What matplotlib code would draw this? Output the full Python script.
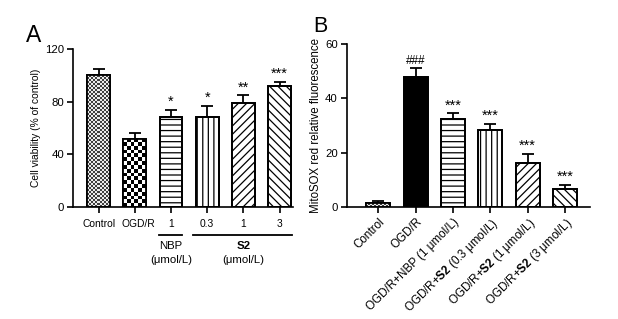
import numpy as np
import matplotlib
matplotlib.use("Agg")
import matplotlib.pyplot as plt
import matplotlib.transforms as mtransforms

plt.rcParams['font.family'] = ['Liberation Sans', 'DejaVu Sans']
plt.rcParams['mathtext.fontset'] = 'custom'
plt.rcParams['mathtext.rm'] = 'Liberation Sans'
plt.rcParams['mathtext.bf'] = 'Liberation Sans:bold'
plt.rcParams['hatch.linewidth'] = 0.9

# ---------------- data ----------------
a_ticklabels = ["Control", "OGD/R", "1", "0.3", "1", "3"]
a_values = [100, 52, 68, 68, 79, 92]
a_errors = [5, 4, 6, 9, 6, 3]
a_marks = ["", "", "*", "*", "**", "***"]
a_yticks = [0, 40, 80, 120]

b_ticklabels = ["Control", "OGD/R", "OGD/R+NBP (1 μmol/L)",
                "OGD/R+$\\bf{S2}$ (0.3 μmol/L)", "OGD/R+$\\bf{S2}$ (1 μmol/L)",
                "OGD/R+$\\bf{S2}$ (3 μmol/L)"]
b_values = [1.2, 48, 32.5, 28.5, 16, 6.5]
b_errors = [0.8, 3.2, 2.0, 2.2, 3.5, 1.5]
b_marks = ["", "###", "***", "***", "***", "***"]
b_yticks = [0, 20, 40, 60]

fig = plt.figure(figsize=(6.18, 3.19), dpi=100)
W, H = 618, 319

def add_ax(l, t, r, b):
    return fig.add_axes([l / W, 1 - b / H, (r - l) / W, (b - t) / H])

axA = add_ax(73, 49, 293, 207)
axB = add_ax(346.7, 44.3, 590, 206.7)

def style(ax, yticks, xlim):
    for s in ['top', 'right']:
        ax.spines[s].set_visible(False)
    for s in ['left', 'bottom']:
        ax.spines[s].set_linewidth(1.2)
    ax.set_ylim(yticks[0], yticks[-1])
    ax.set_yticks(yticks)
    ax.set_xlim(*xlim)
    ax.tick_params(axis='both', width=1.2, length=4.5, labelsize=8.2, pad=2)

def checker(ax, bar, cell_px, lo, hi):
    # fill bar with a checkerboard image clipped to the bar
    x0, y0 = bar.get_x(), bar.get_y()
    x1, y1 = x0 + bar.get_width(), y0 + bar.get_height()
    p0 = ax.transData.transform((x0, y0))
    p1 = ax.transData.transform((x1, y1))
    cols = max(1, int(round(abs(p1[0] - p0[0]) / cell_px)))
    rows = max(1, int(round(abs(p1[1] - p0[1]) / cell_px)))
    img = np.where(np.indices((rows, cols)).sum(0) % 2 == 0, lo, hi)
    im = ax.imshow(img, cmap='gray', vmin=0, vmax=1, extent=(x0, x1, y0, y1),
                   aspect='auto', interpolation='nearest', zorder=2, origin='lower')
    im.set_clip_path(bar)

def draw(ax, values, errors, marks, hatches, checks, width, xlim, yticks, markfs):
    style(ax, yticks, xlim)
    x = np.arange(len(values))
    bars = ax.bar(x, values, width=width, color='white', edgecolor='black',
                  linewidth=1.3, zorder=1)
    for bar, h in zip(bars, hatches):
        if h == 'solid':
            bar.set_facecolor('black')
        elif h:
            bar.set_hatch(h)
    xl = ax.get_xlim(); yl = ax.get_ylim()
    for i, c in enumerate(checks):
        if c:
            checker(ax, bars[i], *c)
    ax.set_xlim(xl); ax.set_ylim(yl)
    ax.bar(x, values, width=width, color='none', edgecolor='black',
           linewidth=1.3, zorder=3)
    ax.errorbar(x, values, yerr=[np.zeros(len(values)), errors], fmt='none',
                ecolor='black', elinewidth=1.3, capsize=4, capthick=1.3, zorder=0.5)
    for xi, v, e, m in zip(x, values, errors, marks):
        if m:
            fs = markfs if m.startswith('*') else 8.5
            ax.text(xi, v + e + (yticks[-1] * 0.005), m, ha='center', va='bottom',
                    fontsize=fs)
    ax.set_xticks(x)
    return bars

# Panel A
draw(axA, a_values, a_errors, a_marks,
     ['', '', '---', '|||', '////', '\\\\\\\\'],
     [(2.0, 0.25, 0.92), (3.8, 0.0, 1.0), 0, 0, 0, 0], 0.63, (-0.71, 5.37), a_yticks, 10.5)
axA.set_xticklabels(a_ticklabels, fontsize=7.4)
axA.tick_params(axis='x', pad=4)
# OGD/R label sits slightly right of its tick in the reference
lbl = axA.get_xticklabels()[1]
lbl.set_transform(lbl.get_transform() + mtransforms.ScaledTranslation(4 / 100, 0, fig.dpi_scale_trans))
axA.set_ylabel("Cell viability (% of control)", fontsize=7.4, labelpad=3)

trA = mtransforms.blended_transform_factory(axA.transData, axA.transAxes)
axA.plot([1.66, 2.3], [-0.18, -0.18], color='black', lw=1.3, transform=trA, clip_on=False)
axA.plot([2.6, 5.34], [-0.18, -0.18], color='black', lw=1.3, transform=trA, clip_on=False)
axA.text(2, -0.245, "NBP", ha='center', va='center', fontsize=8.2, transform=trA)
axA.text(2, -0.335, "(μmol/L)", ha='center', va='center', fontsize=8.2, transform=trA)
axA.text(4, -0.245, "S2", ha='center', va='center', fontsize=8.2, fontweight='bold', transform=trA)
axA.text(4, -0.335, "(μmol/L)", ha='center', va='center', fontsize=8.2, transform=trA)

# Panel B
draw(axB, b_values, b_errors, b_marks,
     ['', 'solid', '---', '|||', '////', '\\\\\\\\'],
     [(2.0, 0.25, 0.92), 0, 0, 0, 0, 0], 0.64, (-0.85, 5.67), b_yticks, 10.5)
axB.set_xticklabels(b_ticklabels, rotation=45, ha='right', rotation_mode='anchor',
                    fontsize=8.4)
axB.set_ylabel("MitoSOX red relative fluorescence", fontsize=8.3, labelpad=2)

fig.text(34 / W, 1 - 35 / H, "A", fontsize=16.5, ha='center', va='center')
fig.text(320 / W, 1 - 26 / H, "B", fontsize=15.5, ha='center', va='center')

fig.savefig("out.png", dpi=100)
